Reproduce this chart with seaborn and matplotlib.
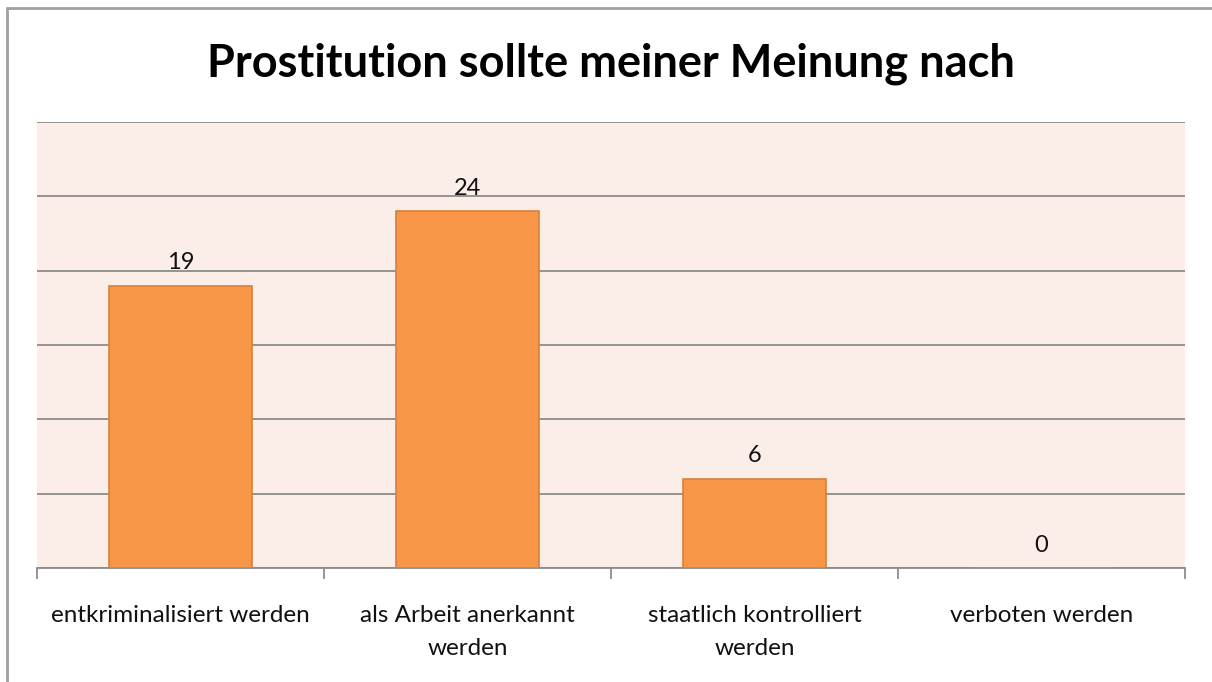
import matplotlib
matplotlib.use("Agg")
import matplotlib.pyplot as plt
import seaborn as sns
import pandas as pd
from matplotlib.lines import Line2D

categories = ["entkriminalisiert werden", "als Arbeit anerkannt\nwerden",
              "staatlich kontrolliert\nwerden", "verboten werden"]
values = [19, 24, 6, 0]
title = "Prostitution sollte meiner Meinung nach"

sns.set_theme(style="white")
plt.rcParams['font.family'] = ['Lato', 'DejaVu Sans']

df = pd.DataFrame({"cat": categories, "val": values})

fig = plt.figure(figsize=(12.12, 6.82), dpi=100)
ax = fig.add_axes([37/1212, 1-568/682, (1185-37)/1212, (568-122)/682])
ax.set_facecolor("#FBEDE8")

sns.barplot(data=df, x="cat", y="val", ax=ax, color="#F79646",
            width=0.5, saturation=1, edgecolor="#D9803C", linewidth=1.2, zorder=3)

ax.set_ylim(0, 30)
ax.set_xlim(-0.5, len(categories) - 0.5)
ax.set_yticks(range(0, 31, 5))
ax.yaxis.grid(True, color="#8C8C8C", linewidth=1.3, zorder=0)
ax.set_axisbelow(True)
ax.tick_params(axis="y", left=False, labelleft=False)
ax.set_xlabel("")
ax.set_ylabel("")
for s in ["top", "right", "left"]:
    ax.spines[s].set_visible(False)
ax.spines["bottom"].set_color("#8C8C8C")
ax.spines["bottom"].set_linewidth(1.3)

ax.set_xticks(range(len(categories)))
ax.set_xticklabels(categories, fontsize=17.5, color="#111111", linespacing=1.65)
ax.tick_params(axis="x", which="major", length=0, pad=27)
ax.set_xticks([i - 0.5 for i in range(len(categories) + 1)], minor=True)
ax.tick_params(axis="x", which="minor", length=8, width=1.3, color="#8C8C8C",
               direction="out", bottom=True)

for i, v in enumerate(values):
    ax.annotate(str(v), (i, v), xytext=(0, 9), textcoords="offset points",
                ha="center", va="bottom", fontsize=17, color="#111111")

fig.text(611/1212, 1-64/682, title, ha="center", va="center",
         fontsize=32.5, fontweight="bold", color="#000000")

fig.add_artist(Line2D([7/1212, 1], [1-8/682, 1-8/682], transform=fig.transFigure,
                      color="#A0A0A0", linewidth=2))
fig.add_artist(Line2D([7/1212, 7/1212], [0, 1-8/682], transform=fig.transFigure,
                      color="#A0A0A0", linewidth=2))

fig.savefig("out.png", dpi=100)
